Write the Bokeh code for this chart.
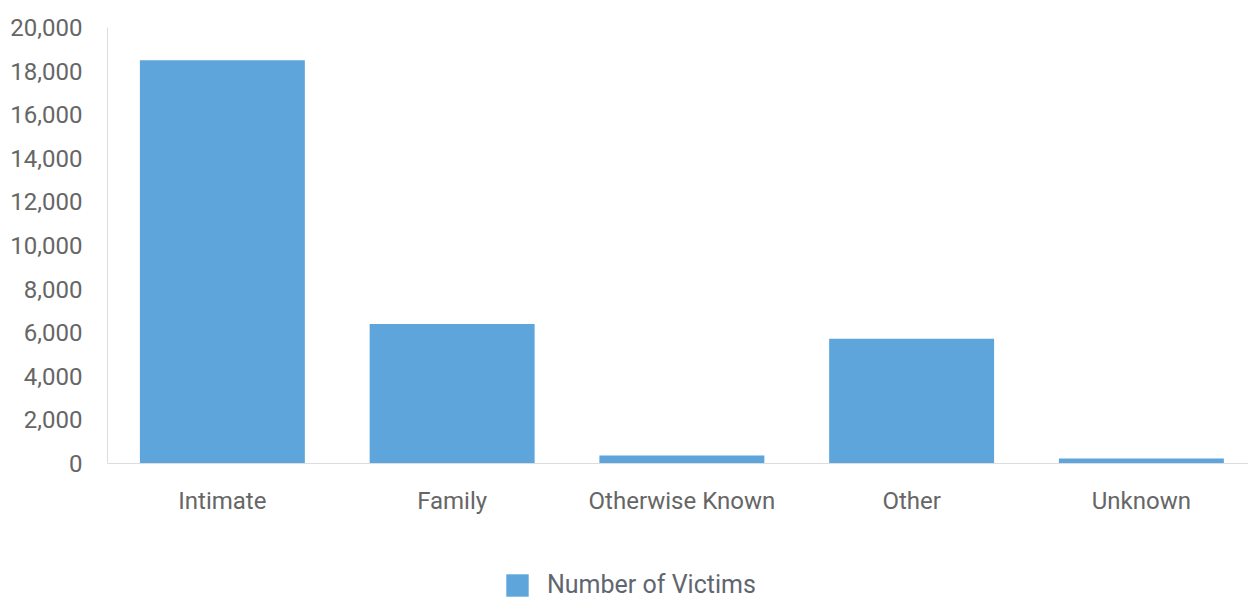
import numpy as np
from bokeh.plotting import figure
from bokeh.models import (ColumnDataSource, Range1d, FixedTicker, NumeralTickFormatter,
                          Legend, LegendItem, Span)
from bokeh.core.properties import value
from bokeh.embed import file_html
from bokeh.resources import INLINE

categories = ["Intimate", "Family", "Otherwise Known", "Other", "Unknown"]
victims = [18500, 6400, 370, 5720, 230]
y_ticks = [0, 2000, 4000, 6000, 8000, 10000, 12000, 14000, 16000, 18000, 20000]
series_name = "Number of Victims"

x_pos = np.arange(len(categories)) + 0.5
zeros = np.zeros(len(categories))
source = ColumnDataSource(dict(x=x_pos, top=victims, base=zeros, cat=categories))

# layout (pixels)
W, H = 1248, 598
LEFT, TOP = 107, 27
ZERO_Y = 463              # screen y of value 0
Y_MAX = 20000
px_per_unit = (ZERO_Y - TOP) / Y_MAX
y_start = -(H - ZERO_Y) / px_per_unit
x_end = (W - LEFT) / 229.75

p = figure(width=W, height=H, output_backend="svg", toolbar_location=None,
           x_axis_location=None,
           x_range=Range1d(0, x_end), y_range=Range1d(y_start, Y_MAX),
           min_border_left=LEFT, min_border_right=0, min_border_top=TOP, min_border_bottom=0)
p.outline_line_color = None
p.background_fill_color = "white"
p.border_fill_color = "white"
p.xgrid.visible = False
p.ygrid.visible = False

r = p.vbar(x="x", top="top", bottom="base", width=0.718, source=source,
           fill_color="#5DA5DA", line_color=None)

font = "Roboto"
# y axis
p.yaxis.ticker = FixedTicker(ticks=y_ticks)
p.yaxis.bounds = (0, Y_MAX)
p.yaxis.formatter = NumeralTickFormatter(format="0,0")
p.yaxis.major_tick_line_color = None
p.yaxis.minor_tick_line_color = None
p.yaxis.major_tick_out = 0
p.yaxis.major_tick_in = 0
p.yaxis.axis_line_color = "#dddddd"
p.yaxis.major_label_text_font = font
p.yaxis.major_label_text_font_size = "24px"
p.yaxis.major_label_text_color = "#666666"
p.yaxis.major_label_standoff = 25

# baseline at zero
p.add_layout(Span(location=0, dimension="width", line_color="#dddddd", line_width=1))

# category labels
p.text(x="x", y="base", text="cat", source=source, text_align="center",
       text_baseline="middle", y_offset=37, text_font=value(font),
       text_font_size="24px", text_color="#666666")

legend = Legend(items=[LegendItem(label=series_name, renderers=[r])],
                orientation="horizontal", location=(396, -1),
                glyph_width=28, glyph_height=28, label_standoff=16,
                label_text_font=font, label_text_font_size="25px",
                label_text_color="#5f6670", border_line_color=None,
                background_fill_alpha=0, margin=0, padding=0)
p.add_layout(legend, "center")

open("out.html", "w").write(file_html(p, INLINE))
